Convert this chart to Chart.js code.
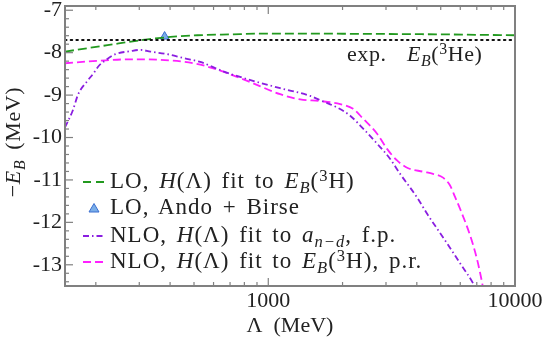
<!DOCTYPE html>
<html>
<head>
<meta charset="utf-8">
<script src="https://cdn.jsdelivr.net/npm/chart.js@4.4.1/dist/chart.umd.min.js"></script>
<style>
  body { margin: 0; background: #fff; }
  #wrap { position: relative; width: 545px; height: 339px; font-family: 'Liberation Serif', serif; color: #222; }
  #chart { position: absolute; left: 0; top: 0; }
  .txt { position: absolute; white-space: nowrap; font-size: 22px; line-height: 1; word-spacing: 4px; letter-spacing: 0.6px; }
  .lt { font-size: 23px; letter-spacing: 1px; word-spacing: 3px; }
  .sub { font-size: 72%; position: relative; top: 0.3em; }
  .sup { font-size: 72%; position: relative; top: -0.45em; }
  .leg { position: absolute; left: 82px; width: 24px; height: 10px; }
</style>
</head>
<body>
<div id="wrap">
  <canvas id="chart" width="545" height="339"></canvas>
  <div class="txt" id="ytitle" style="left:13px; top:142px; transform: translate(-50%,-50%) rotate(-90deg);">&minus;<i>E</i><i class="sub">B</i> (MeV)</div>
  <div class="txt" style="left:347px; top:43px;">exp.&nbsp; <i>E</i><i class="sub">B</i>(<span class="sup">3</span>He)</div>

  <svg class="leg" style="top:177px"><line x1="1" y1="5" x2="23" y2="5" stroke="#22991f" stroke-width="2" stroke-dasharray="8,5"/></svg>
  <svg class="leg" style="top:203px"><polygon points="12,0.5 17,9 7,9" fill="#7aaee8" stroke="#3b6fd0" stroke-width="1"/></svg>
  <svg class="leg" style="top:231px"><line x1="1" y1="5" x2="23" y2="5" stroke="#8a1ee0" stroke-width="2" stroke-dasharray="6,3,1.5,3"/></svg>
  <svg class="leg" style="top:257px"><line x1="1" y1="5" x2="23" y2="5" stroke="#ff20ff" stroke-width="2" stroke-dasharray="8,4"/></svg>

  <div class="txt lt" style="left:110px; top:169px;">LO, <i>H</i>(&Lambda;) fit to <i>E</i><i class="sub">B</i>(<span class="sup">3</span>H)</div>
  <div class="txt lt" style="left:110px; top:195px;">LO, Ando + Birse</div>
  <div class="txt lt" style="left:110px; top:223px;">NLO, <i>H</i>(&Lambda;) fit to <i>a</i><i class="sub">n&minus;d</i>, f.p.</div>
  <div class="txt lt" style="left:110px; top:249px;">NLO, <i>H</i>(&Lambda;) fit to <i>E</i><i class="sub">B</i>(<span class="sup">3</span>H), p.r.</div>
</div>
<script>
// LO, H(Lambda) fit to E_B(3H)
const loLambda = [150, 223, 318, 401, 516, 700, 1000, 2000, 5000, 10000];
const loEB     = [-7.975, -7.823, -7.691, -7.630, -7.590, -7.569, -7.549, -7.554, -7.569, -7.590];

// LO, Ando + Birse (single point)
const abLambda = [380];
const abEB     = [-7.62];

// NLO, fit to a_nd, f.p.
const nloFpLambda = [150, 161, 170, 185, 196, 205, 219, 240, 276, 303, 333, 390, 453, 530, 657, 822, 1118, 1479, 1670, 1902, 2147, 2424, 2761, 3115, 3421, 4011, 4404, 5312, 5988, 6755, 7000];
const nloFpEB     = [-9.760, -9.374, -8.969, -8.665, -8.482, -8.320, -8.178, -8.036, -7.965, -7.934, -7.975, -8.036, -8.127, -8.218, -8.441, -8.624, -8.837, -9.019, -9.151, -9.293, -9.486, -9.790, -10.145, -10.500, -10.855, -11.413, -11.798, -12.498, -12.964, -13.431, -13.613];

// NLO, fit to E_B(3H), p.r.
const nloPrLambda = [150, 209, 276, 365, 497, 599, 822, 1118, 1347, 1624, 1957, 2208, 2424, 2761, 3029, 3326, 3654, 4240, 4654, 5110, 5456, 5714, 5988, 6570, 7003, 7333, 7500];
const nloPrEB     = [-8.249, -8.188, -8.157, -8.168, -8.249, -8.370, -8.665, -8.979, -9.101, -9.141, -9.212, -9.324, -9.557, -9.912, -10.267, -10.541, -10.713, -10.805, -10.855, -10.946, -11.13, -11.40, -11.68, -12.30, -12.85, -13.38, -13.694];

// experimental E_B(3He)
const expLambda = [150, 10000];
const expEB     = [-7.70, -7.70];

// axis ticks
const xMajor = [1000, 10000];
const xMinor = [200, 300, 400, 500, 600, 700, 800, 900, 2000, 3000, 4000, 5000, 6000, 7000, 8000, 9000];
const yMajor = [-13, -12, -11, -10, -9, -8, -7];
const yMinor = [-13.4, -13.2, -12.8, -12.6, -12.4, -12.2, -11.8, -11.6, -11.4, -11.2, -10.8, -10.6, -10.4, -10.2,
                -9.8, -9.6, -9.4, -9.2, -8.8, -8.6, -8.4, -8.2, -7.8, -7.6, -7.4, -7.2];

const zip = (xs, ys) => xs.map((x, i) => ({ x: x, y: ys[i] }));

// frame and inward ticks
const framePlugin = {
    id: 'frame',
    afterDraw(chart) {
        const c = chart.ctx, a = chart.chartArea;
        const xs = chart.scales.x, ys = chart.scales.y;
        c.save();
        c.strokeStyle = '#808080';
        c.setLineDash([]);
        c.lineWidth = 1.2;
        function tick(x1, y1, x2, y2) { c.beginPath(); c.moveTo(x1, y1); c.lineTo(x2, y2); c.stroke(); }
        xMajor.forEach(v => { const p = xs.getPixelForValue(v); tick(p, a.bottom, p, a.bottom - 8); tick(p, a.top, p, a.top + 8); });
        xMinor.forEach(v => { const p = xs.getPixelForValue(v); tick(p, a.bottom, p, a.bottom - 4); tick(p, a.top, p, a.top + 4); });
        yMajor.forEach(v => { const p = ys.getPixelForValue(v); tick(a.left, p, a.left + 8, p); });
        yMinor.forEach(v => { const p = ys.getPixelForValue(v); tick(a.left, p, a.left + 4, p); });
        c.lineWidth = 2;
        c.strokeRect(a.left, a.top, a.right - a.left, a.bottom - a.top);
        c.restore();
    }
};

const tickFont = { family: 'Liberation Serif', size: 22 };

const ctx = document.getElementById('chart').getContext('2d');
new Chart(ctx, {
    type: 'scatter',
    data: {
        datasets: [
            { data: zip(expLambda, expEB), showLine: true, borderColor: '#111', borderWidth: 2, borderDash: [1.5, 4.2], pointRadius: 0, borderCapStyle: 'round' },
            { data: zip(loLambda, loEB), showLine: true, borderColor: '#22991f', borderWidth: 1.8, borderDash: [9, 4], pointRadius: 0, cubicInterpolationMode: 'monotone' },
            { data: zip(nloFpLambda, nloFpEB), showLine: true, borderColor: '#8a1ee0', borderWidth: 1.8, borderDash: [6, 3, 1.5, 3], pointRadius: 0, cubicInterpolationMode: 'monotone' },
            { data: zip(nloPrLambda, nloPrEB), showLine: true, borderColor: '#ff20ff', borderWidth: 1.8, borderDash: [8, 4], pointRadius: 0, cubicInterpolationMode: 'monotone' },
            { data: zip(abLambda, abEB), showLine: false, pointStyle: 'triangle', pointRadius: 5, backgroundColor: '#7aaee8', borderColor: '#3b6fd0', borderWidth: 1 }
        ]
    },
    options: {
        responsive: false,
        animation: false,
        layout: { padding: { top: 5, right: 30, left: 0, bottom: 0 } },
        plugins: { legend: { display: false }, tooltip: { enabled: false } },
        scales: {
            x: {
                type: 'logarithmic', min: 150, max: 10000,
                grid: { display: false, drawTicks: false }, border: { display: false },
                afterBuildTicks: s => { s.ticks = xMajor.map(v => ({ value: v })); },
                afterFit: s => { s.height = 53; s.paddingLeft = 0; s.paddingRight = 0; },
                ticks: { padding: 2, color: '#222', font: tickFont, callback: v => String(v), maxRotation: 0, autoSkip: false },
                title: { display: true, text: 'Λ\u2002(MeV)', color: '#222', font: tickFont, padding: { top: 0, bottom: 0 } }
            },
            y: {
                min: -13.5, max: -6.9,
                grid: { display: false, drawTicks: false }, border: { display: false },
                afterBuildTicks: s => { s.ticks = yMajor.map(v => ({ value: v })); },
                afterFit: s => { s.width = 65; s.paddingTop = 0; s.paddingBottom = 0; },
                ticks: { padding: 3, color: '#222', font: tickFont, callback: v => String(v) }
            }
        }
    },
    plugins: [framePlugin]
});
</script>
</body>
</html>
